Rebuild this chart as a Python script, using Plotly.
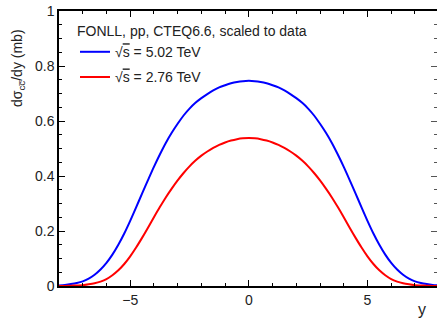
import plotly.graph_objects as go

rapidity = [-8.0, -7.75, -7.5, -7.25, -7.0, -6.75, -6.5, -6.25, -6.0, -5.75, -5.5, -5.25, -5.0, -4.75, -4.5, -4.25,
            -4.0, -3.75, -3.5, -3.25, -3.0, -2.75, -2.5, -2.25, -2.0, -1.75, -1.5, -1.25, -1.0, -0.75, -0.5, -0.25,
            0.0,
            0.25, 0.5, 0.75, 1.0, 1.25, 1.5, 1.75, 2.0, 2.25, 2.5, 2.75, 3.0, 3.25, 3.5, 3.75, 4.0,
            4.25, 4.5, 4.75, 5.0, 5.25, 5.5, 5.75, 6.0, 6.25, 6.5, 6.75, 7.0, 7.25, 7.5, 7.75, 8.0]
sigma_502 = [0.002, 0.004, 0.007, 0.011, 0.017, 0.027, 0.041, 0.060, 0.084, 0.114, 0.150, 0.191, 0.237, 0.286, 0.336, 0.385,
             0.433, 0.478, 0.520, 0.557, 0.590, 0.620, 0.645, 0.666, 0.683, 0.698, 0.711, 0.722, 0.730, 0.737, 0.742, 0.745,
             0.746,
             0.745, 0.742, 0.737, 0.730, 0.722, 0.711, 0.698, 0.683, 0.666, 0.645, 0.620, 0.590, 0.557, 0.520, 0.478, 0.433,
             0.385, 0.336, 0.286, 0.237, 0.191, 0.150, 0.114, 0.084, 0.060, 0.041, 0.027, 0.017, 0.011, 0.007, 0.004, 0.002]
sigma_276 = [0.000, 0.000, 0.001, 0.002, 0.003, 0.006, 0.010, 0.016, 0.025, 0.039, 0.057, 0.080, 0.108, 0.140, 0.175, 0.212,
             0.250, 0.287, 0.322, 0.354, 0.384, 0.411, 0.435, 0.456, 0.474, 0.489, 0.502, 0.513, 0.522, 0.529, 0.534, 0.537,
             0.538,
             0.537, 0.534, 0.529, 0.522, 0.513, 0.502, 0.489, 0.474, 0.456, 0.435, 0.411, 0.384, 0.354, 0.322, 0.287, 0.250,
             0.212, 0.175, 0.140, 0.108, 0.080, 0.057, 0.039, 0.025, 0.016, 0.010, 0.006, 0.003, 0.002, 0.001, 0.000, 0.000]

legend_title = "FONLL, pp, CTEQ6.6, scaled to data"
label_502 = "√<span style='text-decoration:overline'>s</span> = 5.02 TeV"
label_276 = "√<span style='text-decoration:overline'>s</span> = 2.76 TeV"
y_title = "dσ<sub>cc\u0305</sub>/dy (mb)"
x_title = "y"

FONT = "Liberation Sans, Arial, sans-serif"
TXT = "#222222"

fig = go.Figure()
fig.add_trace(go.Scatter(x=rapidity, y=sigma_502, mode="lines", name=label_502, legendgroup="a",
                         line=dict(color="#0000ff", width=2, shape="spline", smoothing=0.8)))
fig.add_trace(go.Scatter(x=rapidity, y=sigma_276, mode="lines", name=label_276, legendgroup="b",
                         line=dict(color="#ff0000", width=2, shape="spline", smoothing=0.8)))
# invisible trace to carry right-side ticks
fig.add_trace(go.Scatter(x=[rapidity[0]], y=[sigma_502[0]], yaxis="y2", mode="lines",
                         showlegend=False, hoverinfo="skip", line=dict(width=0)))

axis_common = dict(ticks="inside", tickcolor="#000", linecolor="#000", tickwidth=1,
                   showgrid=False, zeroline=False, tickfont=dict(family=FONT, size=14, color=TXT))

fig.update_layout(
    width=437, height=320,
    margin=dict(l=59, r=0, t=11, b=34),
    paper_bgcolor="white", plot_bgcolor="white",
    font=dict(family=FONT, size=14, color=TXT),
    xaxis=dict(range=[-8, 7.93], dtick=5, tick0=0, ticklen=6, showline=True, linewidth=1.5,
               mirror="ticks", minor=dict(dtick=1, ticklen=3, ticks="inside", tickcolor="#000"),
               **axis_common),
    yaxis=dict(range=[0, 1], dtick=0.2, tick0=0, ticklen=6, showline=True, linewidth=1.5,
               minor=dict(dtick=0.05, ticklen=3, ticks="inside", tickcolor="#000"),
               **axis_common),
    yaxis2=dict(range=[0, 1], dtick=0.2, tick0=0, ticklen=6, overlaying="y", side="right",
                showline=False, showticklabels=False, ticks="inside", tickcolor="#555",
                minor=dict(dtick=0.05, ticklen=3, ticks="inside", tickcolor="#555"),
                showgrid=False, zeroline=False),
    showlegend=True,
    legend=dict(x=(75 - 59) / 378, y=1 - (18 - 11) / 275, xanchor="left", yanchor="top",
                bgcolor="rgba(0,0,0,0)", font=dict(family=FONT, size=14, color=TXT),
                title=dict(text=legend_title, font=dict(family=FONT, size=14, color=TXT)),
                traceorder="grouped", tracegroupgap=4, itemwidth=30),
    annotations=[
        dict(text=y_title, xref="paper", yref="paper", x=(18 - 59) / 378, y=(286 - 27) / 275,
             xanchor="center", yanchor="top",
             textangle=-90, showarrow=False, font=dict(family=FONT, size=14, color=TXT)),
        dict(text=x_title, xref="paper", yref="paper", x=(422 - 59) / 378, y=(286 - 320) / 275,
             xanchor="center", yanchor="bottom",
             showarrow=False, font=dict(family=FONT, size=16, color=TXT)),
    ],
)

fig.write_html("out.html")
